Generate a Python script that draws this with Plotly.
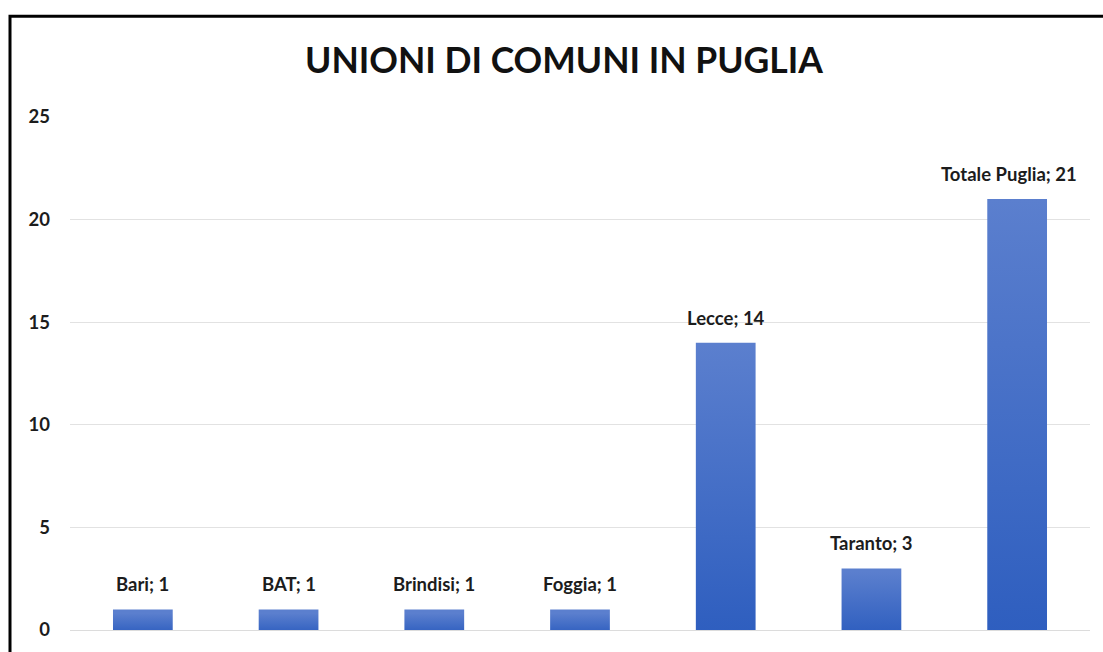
import plotly.graph_objects as go

# Number of "unioni di comuni" per province and regional total
categories = ["Bari", "BAT", "Brindisi", "Foggia", "Lecce", "Taranto", "Totale Puglia"]
values = [1, 1, 1, 1, 14, 3, 21]
y_ticks = [0, 5, 10, 15, 20, 25]

BAR_HALF = 0.205
DARK_BLUE = "#2e5ebf"
LIGHT_BLUE = "#5b7fce"
TEXT_COLOR = "#1c1c1c"
FONT = "Lato"
LABEL_SIZE = 18.5

fig = go.Figure()

# Each bar is a filled polygon so it can carry its own vertical gradient
for i, (cat, val) in enumerate(zip(categories, values)):
    fig.add_trace(go.Scatter(
        x=[i - BAR_HALF, i + BAR_HALF, i + BAR_HALF, i - BAR_HALF, i - BAR_HALF],
        y=[0, 0, val, val, 0],
        mode="lines",
        fill="toself",
        line=dict(width=0, color=DARK_BLUE),
        fillgradient=dict(
            type="vertical",
            start=0,
            stop=val,
            colorscale=[[0, DARK_BLUE], [1, LIGHT_BLUE]],
        ),
        hoverinfo="skip",
        showlegend=False,
    ))

# Data labels "Category; value" above each bar; the last one is nudged
# left so it stays inside the plotting area
annotations = [
    dict(
        x=i, y=val, xref="x", yref="y",
        text=f"<b>{cat}; {val}</b>",
        showarrow=False,
        xanchor="center", yanchor="bottom",
        yshift=12,
        xshift=-8 if i == len(categories) - 1 else 0,
        font=dict(family=FONT, size=LABEL_SIZE, color=TEXT_COLOR),
    )
    for i, (cat, val) in enumerate(zip(categories, values))
]

fig.update_layout(
    width=1103,
    height=652,
    margin=dict(l=70, r=13, t=117, b=18),
    paper_bgcolor="white",
    plot_bgcolor="white",
    title=dict(
        text="<b>UNIONI DI COMUNI IN PUGLIA</b>",
        x=564 / 1103,
        xanchor="center",
        xref="container",
        y=1 - 61 / 652,
        yanchor="middle",
        yref="container",
        font=dict(family=FONT, size=35.5, color="#111111"),
    ),
    xaxis=dict(
        range=[-0.5, len(categories) - 0.5],
        showticklabels=False,
        showgrid=False,
        zeroline=False,
        showline=False,
        fixedrange=True,
    ),
    yaxis=dict(
        range=[0, 25],
        tickvals=y_ticks,
        ticktext=[str(t) for t in y_ticks],
        showgrid=True,
        gridcolor="#e2e2e2",
        gridwidth=1,
        zeroline=True,
        zerolinecolor="#dcdcdc",
        zerolinewidth=1,
        showline=False,
        ticklabelstandoff=19,
        tickfont=dict(family=FONT, size=LABEL_SIZE, color=TEXT_COLOR, weight="bold"),
        fixedrange=True,
    ),
    annotations=annotations,
    shapes=[
        # Black frame around the chart area
        dict(
            type="rect",
            xref="paper", yref="paper",
            x0=(10 - 70) / 1020, x1=1.05,
            y0=-0.1, y1=(634 - 15.5) / 517,
            line=dict(color="black", width=3),
            fillcolor="rgba(0,0,0,0)",
            layer="above",
        )
    ],
)

fig.write_html("out.html")
